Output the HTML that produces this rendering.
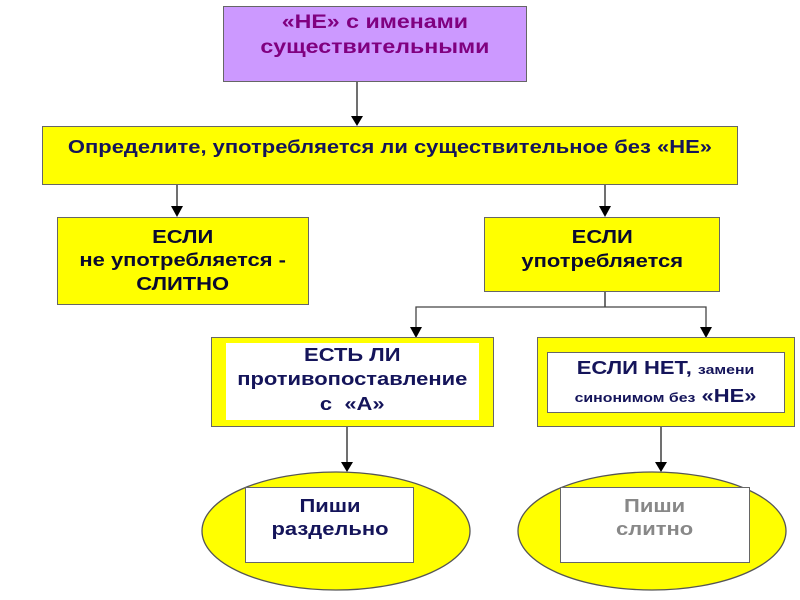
<!DOCTYPE html>
<html><head><meta charset="utf-8"><style>
body{margin:0;width:800px;height:600px;background:#fff;overflow:hidden;position:relative;font-family:"Liberation Sans","DejaVu Sans",sans-serif;font-weight:bold}
.b{position:absolute;box-sizing:border-box;border:1.5px solid #666;display:flex;align-items:center;justify-content:center;text-align:center;color:#14145a;line-height:1.3}
.b>span{display:inline-block;transform:scaleX(1.22);white-space:nowrap}
svg{position:absolute;left:0;top:0}
</style></head><body>
<svg width="800" height="600">
<g stroke="#222" stroke-width="1.3" fill="none">
<line x1="357" y1="82" x2="357" y2="118"/>
<line x1="177" y1="185" x2="177" y2="208"/>
<line x1="605" y1="185" x2="605" y2="208"/>
<line x1="605" y1="291" x2="605" y2="307"/>
<polyline points="416,330 416,307 706,307 706,330" stroke="#444"/>
<line x1="347" y1="427" x2="347" y2="464"/>
<line x1="661" y1="427" x2="661" y2="464"/>
</g>
<g fill="#000">
<polygon points="351,116 363,116 357,126"/>
<polygon points="171,206 183,206 177,217"/>
<polygon points="599,206 611,206 605,217"/>
<polygon points="410,327 422,327 416,338"/>
<polygon points="700,327 712,327 706,338"/>
<polygon points="341,462 353,462 347,472"/>
<polygon points="655,462 667,462 661,472"/>
</g>
<ellipse cx="336" cy="531" rx="134" ry="59" fill="#ffff00" stroke="#555" stroke-width="1.3"/>
<ellipse cx="652" cy="531" rx="134" ry="59" fill="#ffff00" stroke="#555" stroke-width="1.3"/>
</svg>
<div class="b" style="left:223px;top:6px;width:304px;height:76px;background:#cc99ff;color:#800080;font-size:19px;padding-bottom:16px"><span>«НЕ» с именами<br>существительными</span></div>
<div class="b" style="left:42px;top:126px;width:696px;height:59px;background:#ffff00;font-size:18px;padding-bottom:16px"><span>Определите, употребляется ли существительное без «НЕ»</span></div>
<div class="b" style="left:57px;top:217px;width:252px;height:88px;background:#ffff00;font-size:18px;color:#0a0a30"><span>ЕСЛИ<br>не употребляется -<br>СЛИТНО</span></div>
<div class="b" style="left:484px;top:217px;width:236px;height:75px;background:#ffff00;font-size:18px;color:#0a0a30;padding-bottom:10px"><span>ЕСЛИ<br>употребляется</span></div>
<div class="b" style="left:211px;top:337px;width:283px;height:90px;background:#ffff00"></div>
<div class="b" style="left:226px;top:343px;width:253px;height:77px;background:#fff;border:none;font-size:18px;line-height:1.35;align-items:flex-start;padding-top:0px"><span>ЕСТЬ ЛИ<br>противопоставление<br>с &nbsp;«А»</span></div>
<div class="b" style="left:537px;top:337px;width:258px;height:90px;background:#ffff00"></div>
<div class="b" style="left:547px;top:352px;width:238px;height:61px;background:#fff;font-size:18px;line-height:1.55"><span>ЕСЛИ НЕТ, <span style="font-size:13px">замени</span><br><span style="font-size:13px">синонимом без</span> «НЕ»</span></div>
<div class="b" style="left:245px;top:487px;width:169px;height:76px;background:#fff;font-size:18px;align-items:flex-start;padding-top:7px"><span>Пиши<br>раздельно</span></div>
<div class="b" style="left:560px;top:487px;width:190px;height:76px;background:#fff;font-size:18px;color:#888;align-items:flex-start;padding-top:7px"><span>Пиши<br>слитно</span></div>
</body></html>
